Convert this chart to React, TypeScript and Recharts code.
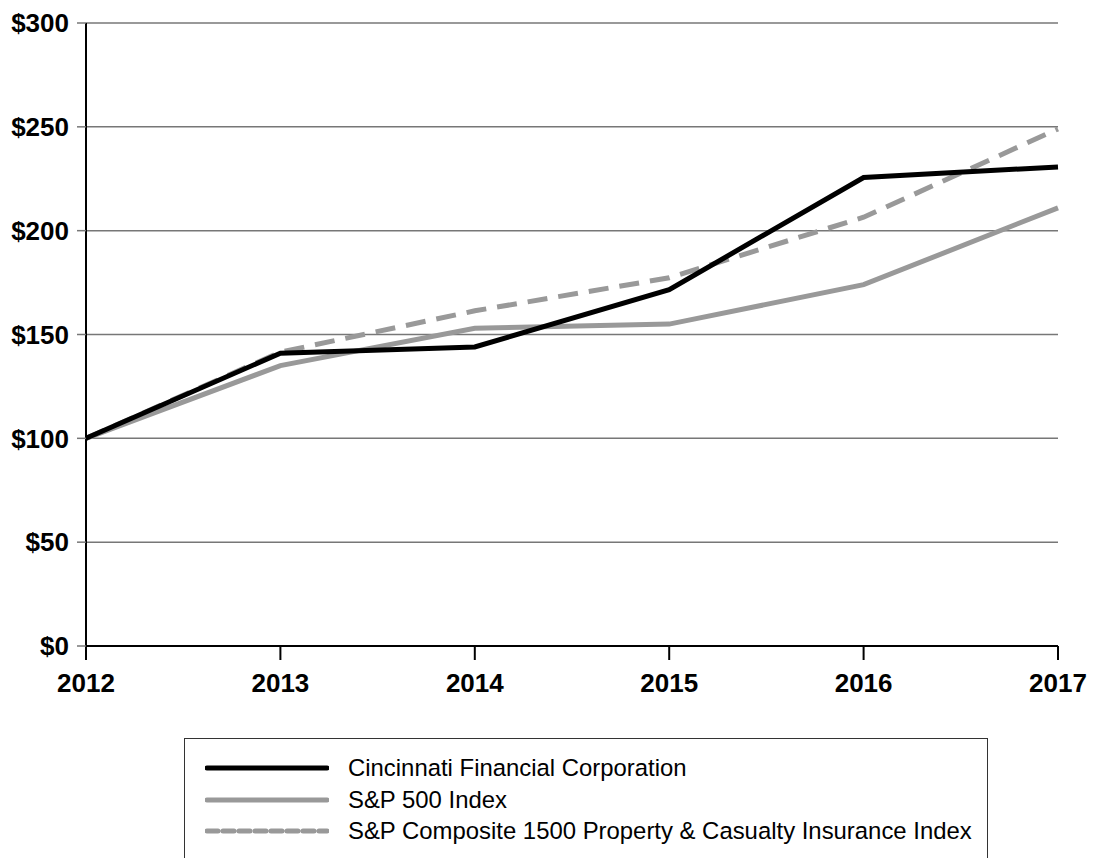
import { LineChart, Line, XAxis, YAxis, CartesianGrid } from "recharts";

const years = [2012, 2013, 2014, 2015, 2016, 2017];
const cincinnati = [100, 141, 144, 171.6, 225.6, 230.7];
const sp500 = [100, 135, 153, 155, 174, 211];
const composite = [100, 141.5, 161.4, 177.3, 206.5, 249];
const yTicks = [0, 50, 100, 150, 200, 250, 300];

const data = years.map((year, i) => ({
  year,
  cincinnati: cincinnati[i],
  sp500: sp500[i],
  composite: composite[i],
}));

const legendItems = [
  { label: "Cincinnati Financial Corporation", color: "#000000", dash: undefined },
  { label: "S&P 500 Index", color: "#999999", dash: undefined },
  { label: "S&P Composite 1500 Property & Casualty Insurance Index", color: "#999999", dash: "11 5" },
];

const tickStyle = { fontSize: 26, fontWeight: 700, fill: "#000", fontFamily: "'Liberation Sans', Arial, sans-serif" };

export default function App() {
  return (
    <div style={{ position: "absolute", left: 0, top: 0, width: 1093, height: 858, background: "#fff", overflow: "hidden" }}>
      <LineChart width={1093} height={710} data={data} margin={{ top: 23, right: 35, bottom: 0, left: 0 }}>
        <CartesianGrid vertical={false} stroke="#777" strokeWidth={1.5} />
        <XAxis
          dataKey="year"
          type="number"
          domain={[2012, 2017]}
          ticks={years}
          height={64}
          tickSize={14}
          tickMargin={14}
          tick={tickStyle}
          stroke="#000"
          strokeWidth={2}
          tickLine={{ stroke: "#000", strokeWidth: 2 }}
          interval={0}
        />
        <YAxis
          type="number"
          domain={[0, 300]}
          ticks={yTicks}
          width={86}
          tickSize={9}
          tickMargin={8}
          tick={tickStyle}
          tickFormatter={(v: number) => `$${v}`}
          stroke="#000"
          strokeWidth={2}
          tickLine={{ stroke: "#777", strokeWidth: 1.5 }}
          interval={0}
        />
        <Line dataKey="sp500" stroke="#999999" strokeWidth={5} dot={false} isAnimationActive={false} />
        <Line dataKey="composite" stroke="#999999" strokeWidth={5} strokeDasharray="20 11" dot={false} isAnimationActive={false} />
        <Line dataKey="cincinnati" stroke="#000000" strokeWidth={5} dot={false} isAnimationActive={false} />
      </LineChart>
      <div
        style={{
          position: "absolute",
          left: 184,
          top: 738,
          width: 804,
          height: 140,
          border: "1.5px solid #333",
          boxSizing: "border-box",
          fontFamily: "'Liberation Sans', Arial, sans-serif",
          fontSize: 23.9,
          color: "#000",
        }}
      >
        {legendItems.map((item, i) => (
          <div key={i} style={{ position: "absolute", left: 20, top: 14 + i * 31.5, height: 30, display: "flex", alignItems: "center" }}>
            <svg width={124} height={10} style={{ marginRight: 19 }}>
              <line x1={2} y1={5} x2={122} y2={5} stroke={item.color} strokeWidth={5} strokeLinecap="round" strokeDasharray={item.dash} />
            </svg>
            <span style={{ whiteSpace: "nowrap" }}>{item.label}</span>
          </div>
        ))}
      </div>
    </div>
  );
}
